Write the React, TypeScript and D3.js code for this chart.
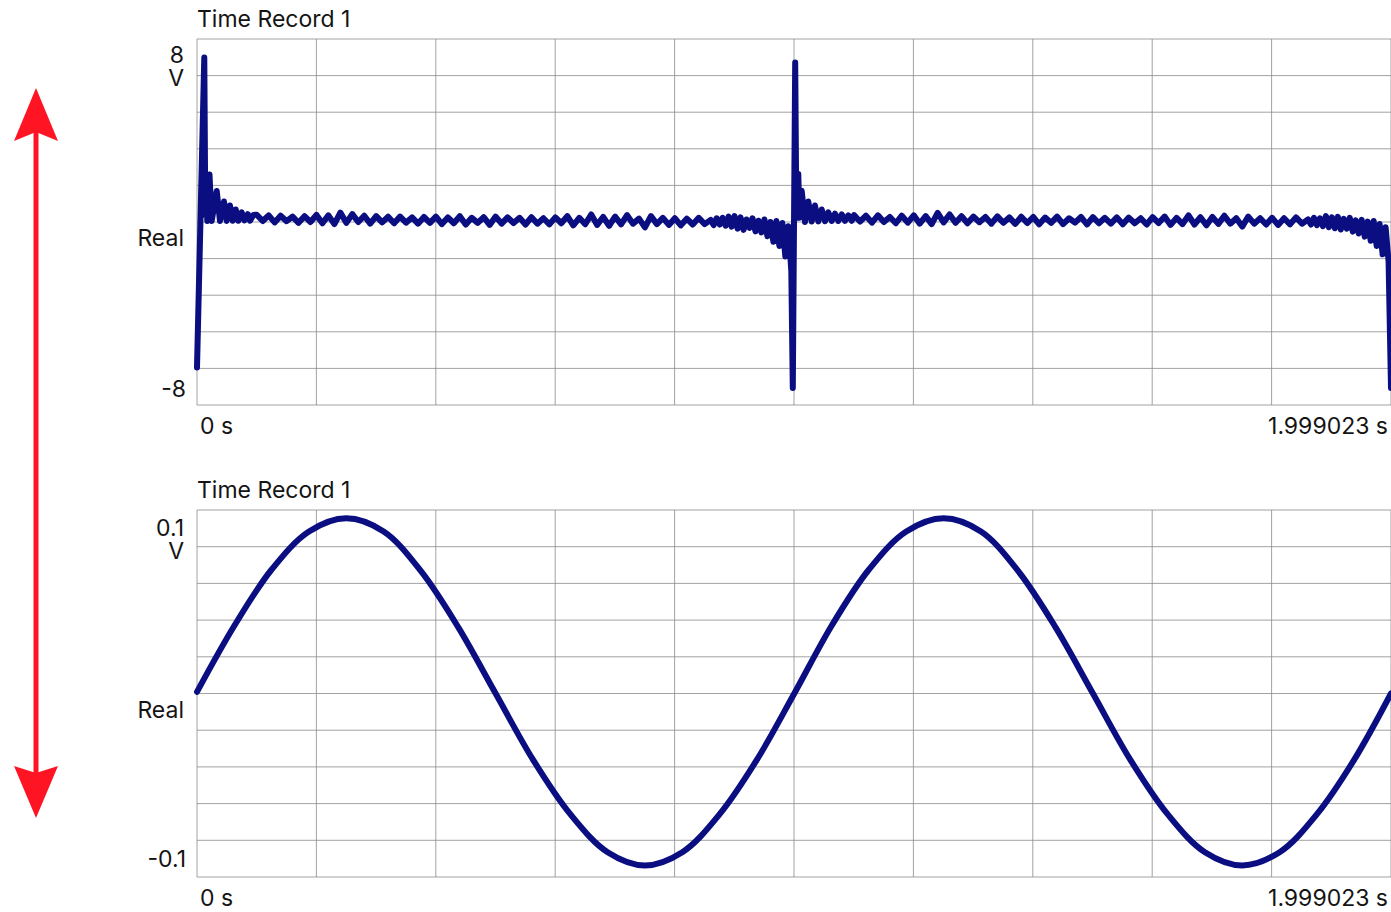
import * as d3 from 'd3'

// ---------- Time Record 1, upper trace (volts) ----------
// transient around the first edge (explicit time points, s)
const ring1T = [0, 0.0122, 0.0139, 0.0151, 0.0172, 0.0209, 0.0246, 0.033, 0.0385, 0.0452, 0.0497, 0.0552, 0.0598, 0.0648, 0.0691, 0.0748, 0.0792, 0.0849, 0.0887, 0.0943]
const ring1V = [-6.97, 7.88, 0.34, 2.2, 0.05, 2.28, 0.05, 1.49, 0.05, 0.98, 0.05, 0.79, 0.06, 0.6, 0.06, 0.46, 0.08, 0.38, 0.06, 0.34]

// flat part, sampled every 10 ms from 0.10 s
const flat1Start = 0.1
const flatStep = 0.01
const flat1V = [
  0.35, 0.05, 0.32, -0.02, 0.3, 0.04, 0.26, -0.04, 0.28, 0.0,
  0.34, -0.06, 0.32, -0.1, 0.45, -0.04, 0.38, 0.0, 0.3, -0.08,
  0.28, -0.02, 0.25, -0.06, 0.26, -0.03, 0.22, -0.08, 0.24, -0.04,
  0.26, -0.1, 0.22, -0.06, 0.28, -0.12, 0.2, -0.04, 0.23, -0.14,
  0.26, -0.08, 0.22, -0.05, 0.2, -0.12, 0.23, -0.08, 0.18, -0.11,
  0.22, -0.06, 0.28, -0.16, 0.2, -0.11, 0.36, -0.14, 0.24, -0.18,
  0.26, -0.11, 0.33, -0.08, 0.16, -0.26, 0.28, -0.1, 0.2, -0.14,
  0.18, -0.16, 0.16, -0.12, 0.2, -0.1,
]

// pre-ringing before the second edge, every 5 ms from 0.86 s
const edge1Start = 0.86
const edgeStep = 0.005
const edge1V = [
  0.1, -0.15, 0.18, -0.12, 0.2, -0.18, 0.26, -0.22, 0.28, -0.32,
  0.22, -0.38, 0.12, -0.28, 0.18, -0.45, 0.06, -0.5, 0.12, -0.68,
  0.0, -0.95, 0.05, -1.15, -0.05, -1.65, -0.2, -2.35,
]

// second edge and its ringing
const ring2T = [0.9975, 1.0015, 1.0035, 1.0067, 1.0085, 1.0124, 1.0179, 1.0234, 1.0291, 1.0346, 1.0402, 1.0459, 1.0514, 1.0569, 1.0626, 1.0681, 1.0737, 1.0794, 1.0849, 1.0904, 1.0961]
const ring2V = [-7.95, 7.64, 0.2, 2.3, 0.2, 1.5, 0.0, 0.98, 0.02, 0.79, 0.03, 0.6, 0.04, 0.46, 0.05, 0.4, 0.05, 0.36, 0.06, 0.32, 0.06]

const flat2Start = 1.1
const flat2V = [
  0.33, 0.02, 0.3, -0.03, 0.32, 0.0, 0.24, -0.06, 0.3, -0.03,
  0.32, -0.08, 0.28, -0.1, 0.44, -0.02, 0.36, -0.04, 0.28, -0.06,
  0.26, -0.01, 0.24, -0.08, 0.27, -0.04, 0.22, -0.09, 0.25, -0.05,
  0.24, -0.11, 0.21, -0.04, 0.26, -0.1, 0.18, -0.03, 0.24, -0.12,
  0.23, -0.06, 0.2, -0.08, 0.22, -0.11, 0.21, -0.06, 0.18, -0.12,
  0.23, -0.05, 0.26, -0.14, 0.2, -0.1, 0.32, -0.12, 0.23, -0.16,
  0.24, -0.09, 0.3, -0.08, 0.18, -0.22, 0.26, -0.08, 0.18, -0.12,
  0.2, -0.14, 0.18, -0.11, 0.22, -0.08,
]

const edge2Start = 1.86
const edge2V = [
  0.12, -0.12, 0.2, -0.15, 0.18, -0.2, 0.28, -0.25, 0.22, -0.3,
  0.25, -0.36, 0.15, -0.32, 0.2, -0.46, 0.08, -0.55, 0.1, -0.7,
  0.02, -0.9, 0.05, -1.15, -0.1, -1.55, -0.25, -1.9,
]

const tailT = [1.999023]
const tailV = [-7.95]

// ---------- Time Record 1, lower trace (volts) ----------
const sineT = [
  0, 0.0625, 0.125, 0.1875, 0.25, 0.3125, 0.375, 0.4375, 0.5, 0.5625, 0.625, 0.6875, 0.75, 0.8125, 0.875, 0.9375,
  1.0, 1.0625, 1.125, 1.1875, 1.25, 1.3125, 1.375, 1.4375, 1.5, 1.5625, 1.625, 1.6875, 1.75, 1.8125, 1.875, 1.9375, 1.999023,
]
const sineV = [
  0.001, 0.041, 0.075, 0.098, 0.106, 0.098, 0.074, 0.04, 0.0, -0.04, -0.073, -0.096, -0.104, -0.096, -0.073, -0.04,
  0.0, 0.041, 0.075, 0.098, 0.106, 0.098, 0.074, 0.04, 0.0, -0.04, -0.073, -0.096, -0.104, -0.096, -0.073, -0.04, 0.0,
]

const tEnd = 1.999023
const xLabels = ['0 s', '1.999023 s']

type Pt = { t: number; v: number }

const zip = (ts: number[], vs: number[]): Pt[] => ts.map((t, i) => ({ t, v: vs[i] }))
const sampled = (start: number, step: number, vs: number[]): Pt[] =>
  vs.map((v, i) => ({ t: start + i * step, v }))

const topPoints: Pt[] = [
  ...zip(ring1T, ring1V),
  ...sampled(flat1Start, flatStep, flat1V),
  ...sampled(edge1Start, edgeStep, edge1V),
  ...zip(ring2T, ring2V),
  ...sampled(flat2Start, flatStep, flat2V),
  ...sampled(edge2Start, edgeStep, edge2V),
  ...zip(tailT, tailV),
]
const sinePoints = zip(sineT, sineV)

const W = 1391
const H = 912
const left = 197
const right = 1391
const font = 'Inter, Roboto, sans-serif'
const fs = 23
const ink = '#141414'
const traceColor = '#0a0e80'
const gridColor = '#8c8c8c'

interface PanelProps {
  top: number
  bottom: number
  limit: number
  tickValue: number
  tickText: [string, string]
  points: Pt[]
  curve: d3.CurveFactory
}

function Panel({ top, bottom, limit, tickValue, tickText, points, curve }: PanelProps) {
  const x = d3.scaleLinear().domain([0, tEnd]).range([left, right])
  const y = d3.scaleLinear().domain([-limit, limit]).range([bottom, top])
  const gx = d3.scaleLinear().domain([0, 10]).range([left, right])
  const gy = d3.scaleLinear().domain([0, 10]).range([top, bottom])
  const divs = d3.range(11)

  const line = d3
    .line<Pt>()
    .x(d => x(d.t))
    .y(d => y(d.v))
    .curve(curve)

  const mid = y(0)

  return (
    <g>
      <text x={left} y={top - 12} fontSize={fs} fill={ink} fontFamily={font}>
        Time Record 1
      </text>

      {divs.map(i => (
        <line key={'h' + i} x1={left} x2={right} y1={gy(i)} y2={gy(i)} stroke={gridColor} strokeWidth={1} opacity={0.8} />
      ))}
      {divs.map(i => (
        <line key={'v' + i} x1={gx(i)} x2={gx(i)} y1={top} y2={bottom} stroke={gridColor} strokeWidth={1} opacity={0.8} />
      ))}

      <g fontSize={fs} fill={ink} fontFamily={font} textAnchor="end">
        <text x={184} y={y(tickValue)} dy="0.36em">{tickText[0]}</text>
        <text x={184} y={y(tickValue) + 23} dy="0.36em">V</text>
        <text x={184} y={mid + 16} dy="0.36em">Real</text>
        <text x={186} y={y(-tickValue)} dy="0.36em">{tickText[1]}</text>
      </g>

      <path
        d={line(points) ?? ''}
        fill="none"
        stroke={traceColor}
        strokeWidth={6}
        strokeLinejoin="round"
        strokeLinecap="round"
      />

      <g fontSize={fs} fill={ink} fontFamily={font}>
        <text x={x(0) + 3} y={bottom + 29}>{xLabels[0]}</text>
        <text x={x(tEnd) - 3} y={bottom + 29} textAnchor="end">{xLabels[1]}</text>
      </g>
    </g>
  )
}

export default function App() {
  const red = '#ff1424'
  return (
    <svg
      width={W}
      height={H}
      viewBox={`0 0 ${W} ${H}`}
      style={{ position: 'absolute', left: 0, top: 0, background: '#fff' }}
    >
      <rect width={W} height={H} fill="#fff" />

      {/* double-headed red arrow at the left */}
      <line x1={36} x2={36} y1={132} y2={774} stroke={red} strokeWidth={5} />
      <path d="M36,88 L58,141 L36,132 L14,141 Z" fill={red} />
      <path d="M36,818 L58,766 L36,773 L14,766 Z" fill={red} />

      <Panel
        top={39}
        bottom={405}
        limit={8.77}
        tickValue={8}
        tickText={['8', '-8']}
        points={topPoints}
        curve={d3.curveLinear}
      />
      <Panel
        top={510}
        bottom={877}
        limit={0.111}
        tickValue={0.1}
        tickText={['0.1', '-0.1']}
        points={sinePoints}
        curve={d3.curveCatmullRom}
      />
    </svg>
  )
}
